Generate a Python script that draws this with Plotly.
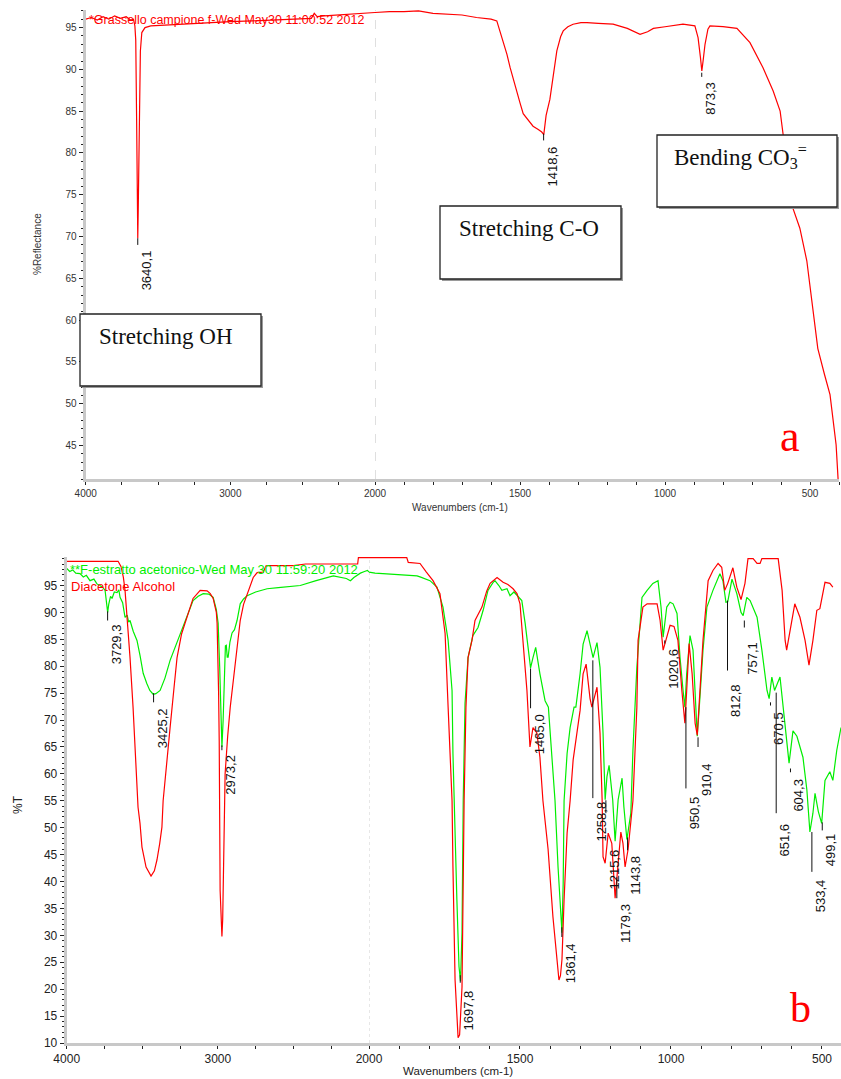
import numpy as np
import plotly.graph_objects as go

# ---------------- DATA ----------------
# Panel a: "*Grassello campione" reflectance spectrum
top_wn = [4000, 3960, 3920, 3880, 3840, 3800, 3760, 3720, 3690, 3670, 3660, 3654, 3648, 3644, 3640,
          3637, 3633, 3628, 3622, 3612, 3590, 3550, 3450, 3300, 3150, 3000, 2850, 2700, 2600, 2500,
          2440, 2420, 2400, 2350, 2250, 2150, 2050, 2000, 1950, 1900, 1850, 1800, 1750, 1700, 1650,
          1620, 1600, 1580, 1560, 1545, 1534, 1520, 1511, 1500, 1489, 1472, 1455, 1437, 1425, 1418,
          1410, 1397, 1385, 1373, 1360, 1351, 1335, 1317, 1290, 1269, 1230, 1179, 1130, 1086, 1060,
          1040, 1000, 938, 897, 886, 878, 873, 868, 862, 852, 845, 800, 752, 707, 680, 662, 627, 603,
          593, 575, 559, 535, 511, 490, 473, 450, 431, 410, 403]
top_val = [96.0, 96.2, 95.9, 96.3, 96.0, 96.4, 96.1, 96.3, 95.9, 96.0, 95.2, 93.5, 84.0, 74.0, 69.8,
           73.0, 80.0, 87.0, 92.2, 94.4, 95.0, 95.2, 95.3, 95.4, 95.6, 95.7, 95.8, 95.9, 96.0, 96.1,
           96.1, 96.7, 96.3, 96.4, 96.5, 96.6, 96.7, 96.8, 96.9, 96.9, 97.0, 96.7, 96.6, 96.5, 96.2,
           96.1, 96.0, 95.8, 93.6, 91.8, 90.2, 88.4, 87.1, 86.0, 84.7, 83.9, 83.2, 82.8, 82.5, 82.2,
           84.5, 86.4, 89.5, 92.2, 93.9, 94.6, 95.1, 95.4, 95.6, 95.6, 95.5, 95.4, 94.9, 94.2, 94.5,
           94.9, 95.1, 95.4, 95.2, 93.8, 91.5, 89.8, 91.2, 93.0, 94.8, 95.2, 95.1, 94.9, 93.2, 91.5,
           90.2, 87.4, 85.0, 82.3, 77.0, 73.4, 71.0, 67.1, 61.1, 56.6, 53.5, 51.1, 45.1, 40.9]

# Panel b: green "**F-estratto acetonico" spectrum
green_wn = [4000, 3980, 3960, 3940, 3912, 3890, 3870, 3846, 3820, 3800, 3780, 3760, 3746, 3735, 3729,
            3722, 3710, 3700, 3685, 3667, 3655, 3647, 3630, 3614, 3600, 3590, 3581, 3560, 3535, 3515,
            3494, 3470, 3450, 3428, 3410, 3382, 3350, 3316, 3270, 3230, 3200, 3164, 3130, 3097, 3060,
            3031, 3010, 2998, 2988, 2980, 2973, 2965, 2958, 2950, 2944, 2938, 2932, 2920, 2906, 2890,
            2873, 2852, 2830, 2806, 2750, 2674, 2600, 2455, 2350, 2236, 2150, 2123, 2100, 2057, 2030,
            2010, 2000, 1980, 1954, 1900, 1841, 1831, 1798, 1775, 1755, 1738, 1725, 1722, 1718, 1709,
            1702, 1697, 1692, 1688, 1682, 1672, 1656, 1639, 1622, 1606, 1590, 1583, 1570, 1560, 1543,
            1533, 1520, 1511, 1494, 1483, 1473, 1465, 1457, 1448, 1434, 1417, 1406, 1394, 1384, 1374,
            1364, 1361, 1357, 1354, 1344, 1334, 1321, 1315, 1301, 1291, 1278, 1268, 1258, 1245, 1235,
            1225, 1218, 1212, 1205, 1193, 1185, 1175, 1162, 1156, 1146, 1133, 1126, 1113, 1103, 1096,
            1079, 1060, 1043, 1033, 1026, 1014, 1003, 993, 980, 970, 960, 954, 948, 937, 927,
            917, 913, 904, 894, 881, 861, 838, 828, 818, 812, 798, 782, 768, 761, 749,
            738, 715, 699, 682, 675, 666, 657, 639, 629, 616, 609, 596, 583, 563, 550,
            540, 530, 523, 512, 501, 496, 490, 474, 464, 451, 437]
green_val = [98.2, 97.6, 97.9, 97.3, 97.2, 96.6, 96.9, 95.9, 96.2, 95.3, 95.0, 94.6, 94.1, 92.0, 90.0,
             91.5, 93.0, 92.6, 93.8, 93.7, 94.2, 92.8, 91.8, 89.1, 89.5, 88.2, 88.5, 86.5, 84.8, 82.0,
             78.7, 76.8, 75.5, 74.8, 74.9, 75.5, 77.8, 81.1, 84.5, 87.2, 89.5, 92.2, 93.0, 93.5, 93.4,
             92.8, 90.5, 88.0, 80.0, 70.0, 65.0, 70.0, 78.7, 83.8, 83.9, 81.7, 81.7, 84.5, 86.2, 86.8,
             88.5, 91.6, 92.5, 93.1, 93.8, 94.4, 94.6, 95.0, 95.9, 96.8, 96.3, 95.9, 96.5, 97.3, 97.6,
             97.8, 97.5, 97.3, 97.2, 97.0, 96.8, 96.6, 95.9, 94.7, 91.0, 84.8, 75.5, 63.8, 54.0, 36.6,
             24.2, 21.5, 30.5, 55.0, 73.1, 81.6, 85.7, 87.2, 90.4, 94.1, 95.5, 95.9, 95.0, 94.1, 94.4,
             93.1, 93.8, 93.3, 92.2, 88.0, 83.6, 79.7, 81.6, 83.5, 78.6, 73.6, 72.4, 63.1, 55.0, 42.7,
             31.6, 30.5, 39.7, 55.0, 63.8, 68.6, 72.4, 72.4, 78.6, 84.1, 86.6, 84.1, 81.6, 84.4, 79.8,
             67.6, 55.2, 59.5, 61.6, 55.2, 47.5, 55.2, 59.2, 53.9, 47.8, 52.7, 64.4, 79.8, 88.5, 92.8,
             94.1, 95.4, 95.9, 91.0, 85.4, 91.0, 91.9, 91.6, 89.8, 81.6, 75.5, 72.4, 78.6, 85.7, 83.0,
             72.4, 67.0, 74.3, 83.0, 91.0, 94.1, 97.2, 95.9, 91.9, 92.0, 96.2, 93.5, 90.0, 89.4, 92.8,
             92.2, 89.1, 83.0, 75.5, 74.0, 78.0, 75.5, 78.0, 72.4, 65.0, 62.0, 68.0, 67.0, 63.1, 57.0,
             49.2, 52.7, 56.4, 53.0, 50.8, 54.4, 58.8, 60.4, 58.8, 64.4, 68.6]

# Panel b: red "Diacetone Alcohol" reference spectrum
red_wn = [4000, 3660, 3640, 3625, 3614, 3600, 3581, 3561, 3545, 3528, 3515, 3502, 3475, 3442, 3420,
          3403, 3385, 3370, 3362, 3340, 3316, 3290, 3270, 3240, 3204, 3164, 3117, 3071, 3050, 3031,
          3010, 3005, 2995, 2991, 2985, 2979, 2973, 2968, 2965, 2962, 2958, 2952, 2935, 2918, 2895,
          2873, 2852, 2830, 2806, 2766, 2740, 2700, 2680, 2500, 2420, 2075, 2070, 2000, 1875, 1870,
          1831, 1810, 1788, 1765, 1748, 1738, 1725, 1722, 1715, 1705, 1700, 1692, 1689, 1685, 1679,
          1672, 1659, 1649, 1626, 1610, 1599, 1576, 1556, 1540, 1523, 1510, 1500, 1490, 1477, 1467,
          1457, 1444, 1434, 1424, 1407, 1391, 1377, 1371, 1366, 1361, 1354, 1344, 1334, 1324, 1301,
          1291, 1281, 1275, 1268, 1262, 1245, 1235, 1228, 1225, 1218, 1208, 1196, 1185, 1175, 1166,
          1159, 1152, 1142, 1130, 1126, 1113, 1109, 1093, 1079, 1046, 1036, 1026, 1014, 1003, 990,
          977, 964, 954, 948, 940, 930, 920, 913, 904, 894, 877, 861, 844, 832, 822,
          812, 795, 782, 768, 755, 745, 728, 715, 705, 699, 645, 632, 622, 617, 600,
          590, 573, 556, 543, 530, 517, 507, 490, 474, 464]
red_val = [99.5, 99.5, 98.5, 96.5, 94.1, 89.0, 81.6, 72.4, 62.0, 53.8, 50.8, 46.4, 42.7, 41.0, 42.0,
           44.0, 47.0, 50.1, 55.0, 62.0, 68.6, 76.0, 81.6, 86.0, 89.1, 92.6, 94.1, 94.0, 93.5, 92.6,
           90.0, 88.0, 75.0, 66.2, 38.4, 32.0, 29.8, 33.0, 38.4, 50.0, 58.0, 60.0, 67.0, 72.4, 78.0,
           83.0, 88.5, 91.5, 93.5, 96.5, 97.4, 97.5, 98.7, 98.7, 99.0, 99.0, 100.2, 100.2, 100.2, 99.3,
           99.1, 97.5, 95.9, 93.5, 86.1, 72.4, 55.0, 42.7, 21.7, 11.0, 11.5, 20.4, 36.6, 55.0, 72.4,
           81.6, 84.8, 88.5, 91.0, 94.0, 95.4, 96.5, 95.6, 95.2, 94.4, 93.5, 91.6, 84.8, 75.5, 65.0,
           68.6, 67.6, 63.1, 55.0, 46.0, 33.5, 25.5, 21.7, 22.5, 25.5, 36.6, 49.0, 55.0, 62.6, 71.8,
           78.6, 80.4, 77.3, 74.0, 72.4, 76.1, 67.6, 55.2, 44.6, 43.4, 49.0, 47.1, 36.9, 42.7, 49.2,
           47.1, 42.7, 46.0, 52.1, 55.0, 72.4, 84.8, 91.0, 91.6, 91.6, 88.5, 83.0, 85.4, 87.6, 87.4,
           84.8, 75.5, 69.4, 75.5, 84.2, 78.6, 69.4, 67.2, 75.5, 84.8, 95.9, 97.8, 99.1, 98.4, 94.1,
           95.4, 98.3, 94.7, 92.4, 95.4, 100.0, 100.0, 99.1, 99.1, 100.0, 100.0, 94.1, 84.8, 83.0, 88.0,
           91.6, 89.1, 84.8, 80.2, 84.8, 90.4, 90.7, 95.6, 95.4, 94.7]

# Peak labels: wavenumber, value at peak, end of leader, top of label
top_peak_wn = [3640.1, 1418.6, 873.3]
top_peak_val = [69.8, 82.3, 89.6]
top_lead_end = [69.0, 81.5, 89.1]
top_label_top = [68.5, 80.9, 88.6]

bot_peak_wn = [3729.3, 3425.2, 2973.2, 1697.8, 1465.0, 1361.4, 1258.8, 1215.6, 1179.3, 1143.8,
               1020.6, 950.5, 910.4, 812.8, 757.1, 670.5, 651.6, 604.3, 533.4, 499.1]
bot_peak_val = [90.2, 75.0, 65.3, 22.6, 79.6, 31.5, 81.1, 55.1, 40.8, 48.2,
                84.8, 72.4, 66.8, 92.2, 88.5, 73.3, 75.1, 61.0, 49.2, 51.0]
bot_lead_end = [88.5, 73.3, 64.4, 21.2, 72.2, 29.7, 55.5, 52.7, 36.9, 45.8,
                84.2, 57.3, 65.0, 79.2, 87.2, 72.7, 52.7, 60.3, 41.8, 49.5]
bot_label_top = [88.0, 72.4, 63.8, 19.9, 71.3, 28.8, 55.1, 46.2, 36.0, 44.9,
                 83.5, 56.0, 62.2, 76.8, 84.8, 71.8, 51.0, 59.4, 40.6, 49.2]

top_title = "*Grassello campione f-Wed May30 11:00:52 2012"
green_title = "**F-estratto acetonico-Wed May 30 11:59:20 2012"
red_title = "Diacetone Alcohol"
x_title = "Wavenumbers (cm-1)"
BREAK = 2000

# ---------------- FIGURE ----------------
W, H = 841, 1079
RED = "#ff0000"
GREEN = "#00ee00"


def px(x):
    return x / W


def py(y):
    return 1 - y / H


fig = go.Figure()


def add_split(wn, val, color, xl, xr, ya, width=1.2):
    wn = np.asarray(wn, float)
    val = np.asarray(val, float)
    left = wn >= BREAK
    right = wn <= BREAK
    fig.add_trace(go.Scatter(x=wn[left], y=val[left], mode="lines", xaxis=xl, yaxis=ya,
                             line=dict(color=color, width=width), hoverinfo="skip"))
    fig.add_trace(go.Scatter(x=wn[right], y=val[right], mode="lines", xaxis=xr, yaxis=ya,
                             line=dict(color=color, width=width), hoverinfo="skip"))


add_split(top_wn, top_val, RED, "x", "x2", "y")
add_split(green_wn, green_val, GREEN, "x3", "x4", "y2")
add_split(red_wn, red_val, RED, "x3", "x4", "y2")

annotations = []


def add_peaks(wns, pv, le, lt, xl, xr, ya, size):
    for side, xa in ((True, xl), (False, xr)):
        xs, ys = [], []
        for w, p, e in zip(wns, pv, le):
            if (w >= BREAK) == side:
                xs += [w, w, None]
                ys += [p, e, None]
        if xs:
            fig.add_trace(go.Scatter(x=xs, y=ys, mode="lines", xaxis=xa, yaxis=ya,
                                     line=dict(color="#111", width=1), hoverinfo="skip"))
    for w, t in zip(wns, lt):
        annotations.append(dict(
            x=w, y=t, xref=xl if w >= BREAK else xr, yref=ya,
            text=f"{w:.1f}".replace(".", ","), textangle=-90, showarrow=False,
            xanchor="left", yanchor="top", xshift=0, borderpad=0,
            font=dict(family="Arial, Liberation Sans, sans-serif", size=size, color="#111")))


add_peaks(top_peak_wn, top_peak_val, top_lead_end, top_label_top, "x", "x2", "y", 13)
add_peaks(bot_peak_wn, bot_peak_val, bot_lead_end, bot_label_top, "x3", "x4", "y2", 13)

AX = dict(showline=True, linecolor="#c8c8c8", linewidth=3, showgrid=False, zeroline=False,
          ticks="outside", tickcolor="#222", ticklen=3, tickwidth=1, fixedrange=True,
          automargin=False)
SANS = "Arial, Liberation Sans, sans-serif"

# top panel domains (pixels)
tx0, tbr, tx1 = 85.7, 375.0, 839.0
ty0, ty1 = 479.0, 10.0
# bottom panel domains (pixels)
bx0, bbr, bx1 = 66.7, 369.0, 841.0
by0, by1 = 1043.0, 557.0

top_tickfont = dict(family=SANS, size=10, color="#333")
bot_tickfont = dict(family=SANS, size=12, color="#222")

fig.update_layout(
    template="none",
    width=W, height=H, margin=dict(l=0, r=0, t=0, b=0, autoexpand=False),
    paper_bgcolor="white", plot_bgcolor="white", showlegend=False,
    xaxis=dict(AX, domain=[px(tx0), px(tbr)], range=[4000, BREAK], anchor="y",
               tickmode="array", tickvals=[4000, 3000, 2000], tickfont=top_tickfont,
               minor=dict(tickmode="linear", tick0=0, dtick=250, ticks="outside", ticklen=3,
                          tickcolor="#222", showgrid=False)),
    xaxis2=dict(AX, domain=[px(tbr), px(tx1)], range=[BREAK, 400], anchor="y",
                tickmode="array", tickvals=[1500, 1000, 500], tickfont=top_tickfont,
                minor=dict(tickmode="linear", tick0=0, dtick=100, ticks="outside", ticklen=3,
                           tickcolor="#222", showgrid=False)),
    yaxis=dict(AX, domain=[py(ty0), py(ty1)], range=[41, 97.1], anchor="x",
               tickmode="array", tickvals=list(range(45, 100, 5)), tickfont=top_tickfont,
               ticklen=4,
               minor=dict(tickmode="linear", tick0=0, dtick=1, ticks="outside", ticklen=2,
                          tickcolor="#222", showgrid=False)),
    xaxis3=dict(AX, domain=[px(bx0), px(bbr)], range=[4000, BREAK], anchor="y2",
                tickmode="array", tickvals=[4000, 3000, 2000], tickfont=bot_tickfont,
                minor=dict(tickmode="linear", tick0=0, dtick=250, ticks="outside", ticklen=3,
                           tickcolor="#222", showgrid=False)),
    xaxis4=dict(AX, domain=[px(bbr), px(bx1)], range=[BREAK, 437], anchor="y2",
                tickmode="array", tickvals=[1500, 1000, 500], tickfont=bot_tickfont,
                minor=dict(tickmode="linear", tick0=0, dtick=100, ticks="outside", ticklen=3,
                           tickcolor="#222", showgrid=False)),
    yaxis2=dict(AX, domain=[py(by0), py(by1)], range=[10, 100.3], anchor="x3",
                tickmode="array", tickvals=list(range(10, 100, 5)), tickfont=bot_tickfont,
                ticklen=4,
                minor=dict(tickmode="linear", tick0=0, dtick=1, ticks="outside", ticklen=2,
                           tickcolor="#222", showgrid=False)),
)

shapes = [
    dict(type="line", xref="x2", yref="y domain", x0=BREAK, x1=BREAK, y0=0, y1=1,
         line=dict(color="#c0c0c0", width=1, dash="dash"), layer="below"),
    dict(type="line", xref="x4", yref="y2 domain", x0=BREAK, x1=BREAK, y0=0, y1=1,
         line=dict(color="#d0d0d0", width=1, dash="dot"), layer="below"),
]

SERIF = "Times New Roman, Liberation Serif, serif"
boxes = [
    ("Stretching OH", 80, 261, 314, 386, 97, 336),
    ("Stretching C-O", 440, 621, 206, 279, 457, 228),
    ("Bending CO<sub>3</sub><sup>=</sup>", 657, 837, 135, 207, 672, 157),
]
for text, x0, x1, y0, y1, tx, tyc in boxes:
    shapes.append(dict(type="rect", xref="paper", yref="paper",
                       x0=px(x0 + 2), x1=px(x1 + 2), y0=py(y1 + 2), y1=py(y0 + 2),
                       line=dict(width=0), fillcolor="#9a9a9a", layer="above"))
    shapes.append(dict(type="rect", xref="paper", yref="paper",
                       x0=px(x0), x1=px(x1), y0=py(y1), y1=py(y0),
                       line=dict(color="#222", width=1.3), fillcolor="white", layer="above"))
    annotations.append(dict(x=px(tx), y=py(tyc), xref="paper", yref="paper", text=text,
                            showarrow=False, xanchor="left", yanchor="middle",
                            font=dict(family=SERIF, size=23, color="#111")))

annotations += [
    dict(x=px(87), y=py(20), xref="paper", yref="paper", text=top_title, showarrow=False,
         xanchor="left", yanchor="middle", font=dict(family=SANS, size=12.5, color=RED)),
    dict(x=px(68), y=py(569), xref="paper", yref="paper", text=green_title, showarrow=False,
         xanchor="left", yanchor="middle", font=dict(family=SANS, size=13, color=GREEN)),
    dict(x=px(69), y=py(586), xref="paper", yref="paper", text=red_title, showarrow=False,
         xanchor="left", yanchor="middle", font=dict(family=SANS, size=13, color=RED)),
    dict(x=px(460), y=py(507), xref="paper", yref="paper", text=x_title, showarrow=False,
         xanchor="center", yanchor="middle", font=dict(family=SANS, size=10, color="#333")),
    dict(x=px(458), y=py(1071), xref="paper", yref="paper", text=x_title, showarrow=False,
         xanchor="center", yanchor="middle", font=dict(family=SANS, size=11.5, color="#222")),
    dict(x=px(37), y=py(244), xref="paper", yref="paper", text="%Reflectance", showarrow=False,
         textangle=-90, xanchor="center", yanchor="middle",
         font=dict(family=SANS, size=10, color="#333")),
    dict(x=px(18), y=py(805), xref="paper", yref="paper", text="%T", showarrow=False,
         textangle=-90, xanchor="center", yanchor="middle",
         font=dict(family=SANS, size=12, color="#222")),
    dict(x=px(790), y=py(436), xref="paper", yref="paper", text="a", showarrow=False,
         xanchor="center", yanchor="middle", font=dict(family=SERIF, size=44, color=RED)),
    dict(x=px(800), y=py(1008), xref="paper", yref="paper", text="b", showarrow=False,
         xanchor="center", yanchor="middle", font=dict(family=SERIF, size=42, color=RED)),
]

fig.update_layout(shapes=shapes, annotations=annotations)
fig.write_html("out.html")
